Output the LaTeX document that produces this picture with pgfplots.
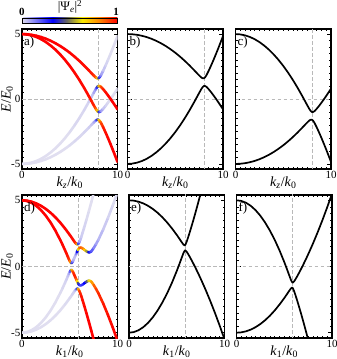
\documentclass[border=0pt]{standalone}
\usepackage{fontspec}
\setmainfont{Liberation Serif}
\usepackage{pgfplots}
\usepackage{pgfplotstable}
\pgfplotsset{compat=1.18}

% k, upper/lower bands of the two top-row pairs, weights
\pgfplotstableread{
k     U1      L1      U2      L2      wU    wL
0     5.009  -5.009   5.009  -5.009   1.00  0.00
0.5   4.995  -4.984   4.984  -4.995   1.00  0.00
1     4.951  -4.911   4.911  -4.951   1.00  0.00
1.5   4.879  -4.788   4.788  -4.879   1.00  0.00
2     4.779  -4.617   4.617  -4.779   1.00  0.00
2.5   4.649  -4.395   4.395  -4.649   1.00  0.00
3     4.490  -4.124   4.124  -4.490   1.00  0.00
3.5   4.303  -3.806   3.806  -4.303   1.00  0.00
4     4.087  -3.437   3.437  -4.087   1.00  0.00
4.5   3.843  -3.020   3.020  -3.843   1.00  0.00
5     3.571  -2.555   2.555  -3.571   1.00  0.00
5.5   3.269  -2.040   2.040  -3.269   0.99  0.01
6     2.940  -1.478   1.478  -2.940   0.99  0.01
6.5   2.584  -0.869   0.869  -2.584   0.99  0.01
7     2.206  -0.216   0.216  -2.206   0.98  0.02
7.25  2.011   0.123  -0.123  -2.011   0.97  0.03
7.5   1.819   0.465  -0.465  -1.819   0.95  0.05
7.7   1.680   0.728  -0.728  -1.680   0.89  0.11
7.8   1.624   0.846  -0.846  -1.624   0.82  0.18
7.9   1.592   0.942  -0.942  -1.592   0.69  0.31
8     1.599   0.999  -0.999  -1.599   0.50  0.50
8.1   1.656   1.008  -1.008  -1.656   0.31  0.69
8.2   1.756   0.974  -0.974  -1.756   0.18  0.82
8.3   1.882   0.914  -0.914  -1.882   0.11  0.89
8.5   2.177   0.757  -0.757  -2.177   0.05  0.95
8.75  2.579   0.531  -0.531  -2.579   0.02  0.98
9     3.004   0.284  -0.284  -3.004   0.01  0.99
9.25  3.445   0.029  -0.029  -3.445   0.00  1.00
9.5   3.903  -0.237   0.237  -3.903   0.00  1.00
9.75  4.373  -0.513   0.513  -4.373   0.00  1.00
10    4.856  -0.796   0.796  -4.856   0.00  1.00
}\topdata

% panel d, band 1 (top) and band 4 (bottom)
\pgfplotstableread{
k     B1     m1     B4      m4
0     5.000  1.00  -5.000   0.00
0.5   4.974  1.00  -4.974   0.00
1     4.895  1.00  -4.895   0.00
1.5   4.764  1.00  -4.764   0.00
2     4.580  1.00  -4.580   0.00
2.5   4.344  1.00  -4.344   0.00
3     4.055  1.00  -4.055   0.00
3.5   3.714  1.00  -3.714   0.00
4     3.320  1.00  -3.320   0.00
4.5   2.874  1.00  -2.874   0.00
5     2.390  0.99  -2.390   0.01
5.25  2.130  0.99  -2.130   0.01
5.5   1.860  0.97  -1.860   0.03
5.6   1.770  0.95  -1.770   0.05
5.7   1.700  0.89  -1.700   0.11
5.8   1.670  0.70  -1.670   0.30
5.85  1.680  0.51  -1.680   0.49
5.9   1.720  0.31  -1.720   0.69
6.0   1.840  0.11  -1.840   0.89
6.1   2.020  0.06  -2.020   0.94
6.2   2.220  0.03  -2.220   0.97
6.35  2.560  0.02  -2.560   0.98
6.5   2.920  0.02  -2.920   0.98
6.75  3.530  0.01  -3.530   0.99
7.0   4.170  0.00  -4.170   1.00
7.25  4.830  0.00  -4.830   1.00
7.5   5.520  0.00  -5.520   1.00
}\dout

% panel d, band 2 and band 3
\pgfplotstableread{
k     B2     m2     B3      m3
0     5.000  1.00  -5.000   0.00
0.5   4.953  1.00  -4.953   0.00
1     4.813  1.00  -4.813   0.00
1.5   4.579  1.00  -4.579   0.00
2     4.252  1.00  -4.252   0.00
2.5   3.831  1.00  -3.831   0.00
3     3.317  1.00  -3.317   0.00
3.5   2.709  1.00  -2.709   0.00
4     2.008  1.00  -2.008   0.00
4.25  1.640  0.99  -1.640   0.01
4.5   1.240  0.99  -1.240   0.01
4.65  0.990  0.98  -0.990   0.02
4.8   0.740  0.97  -0.740   0.03
4.9   0.570  0.95  -0.570   0.05
5.0   0.410  0.90  -0.410   0.10
5.1   0.290  0.74  -0.290   0.26
5.17  0.250  0.50  -0.250   0.50
5.25  0.300  0.25  -0.300   0.75
5.35  0.430  0.10  -0.430   0.90
5.45  0.590  0.05  -0.590   0.95
5.55  0.760  0.04  -0.760   0.96
5.65  0.920  0.06  -0.920   0.94
5.75  1.080  0.18  -1.080   0.82
5.85  1.250  0.49  -1.250   0.51
5.95  1.370  0.72  -1.370   0.32
6.05  1.420  0.85  -1.420   0.24
6.15  1.430  0.88  -1.430   0.22
6.3   1.390  0.86  -1.390   0.23
6.5   1.280  0.78  -1.280   0.27
6.7   1.170  0.62  -1.170   0.37
6.9   1.090  0.45  -1.090   0.50
7.0   1.070  0.35  -1.070   0.58
7.1   1.080  0.30  -1.080   0.64
7.25  1.130  0.22  -1.130   0.72
7.5   1.390  0.15  -1.390   0.83
7.75  1.690  0.10  -1.690   0.90
8.0   2.020  0.07  -2.020   0.93
8.5   2.790  0.04  -2.790   0.96
9.0   3.660  0.02  -3.660   0.98
9.5   4.600  0.01  -4.600   0.99
10    5.600  0.00  -5.600   1.00
}\din

% panels e and f
\pgfplotstableread{
k     eup     elo     fup     flo
0     5.000  -5.000   5.000  -5.000
0.5   4.974  -4.953   4.953  -4.974
1     4.895  -4.813   4.813  -4.895
1.5   4.764  -4.579   4.579  -4.764
2     4.580  -4.252   4.252  -4.580
2.5   4.344  -3.831   3.831  -4.344
3     4.055  -3.317   3.317  -4.055
3.5   3.714  -2.709   2.709  -3.714
4     3.320  -2.016   2.016  -3.320
4.5   2.874  -1.223   1.223  -2.874
5     2.390  -0.340   0.340  -2.390
5.25  2.126   0.134  -0.134  -2.126
5.5   1.858   0.624  -0.624  -1.858
5.6   1.753   0.818  -0.818  -1.753
5.7   1.658   1.008  -1.008  -1.658
5.8   1.599   1.161  -1.161  -1.599
5.85  1.604   1.204  -1.204  -1.604
5.9   1.643   1.211  -1.211  -1.643
6.0   1.801   1.151  -1.151  -1.801
6.1   2.002   1.049  -1.049  -2.002
6.2   2.220   0.932  -0.932  -2.220
6.35  2.563   0.744  -0.744  -2.563
6.5   2.919   0.547  -0.547  -2.919
6.75  3.532   0.204  -0.204  -3.532
7     4.172  -0.154   0.154  -4.172
7.25  4.836  -0.526   0.526  -4.836
7.5   5.518  -0.912   0.912  -5.518
8     6.970  -1.720   1.720  -6.970
8.5   8.510  -2.586   2.586  -8.510
9     10.15  -3.505   3.505  -10.15
9.5   11.88  -4.476   4.476  -11.88
10    13.70  -5.500   5.500  -13.70
}\efdata

\tikzset{
  lbl/.style={anchor=north west, inner sep=0pt, font=\fontsize{13}{13}\selectfont},
  dashln/.style={gray!55, line width=0.7pt, dash pattern=on 3.5pt off 2.5pt},
}
\pgfplotsset{
  colormap={psi}{rgb255(0pt)=(224,222,240); rgb255(32pt)=(0,0,255); rgb255(47pt)=(105,105,95); rgb255(63pt)=(250,235,0); rgb255(80pt)=(255,140,0); rgb255(100pt)=(255,0,0)},
  panel/.style={
    scale only axis, width=95.5pt,
    xmin=0, xmax=10, ymin=-5.4, ymax=5.4,
    xtick={0,10}, xticklabels={0,10},
    ytick={-5,0,5}, yticklabels={},
    minor xtick={0.5,1,...,9.5},
    minor ytick={-5,-4.5,...,5},
    tick align=inside,
    major tick length=4pt, minor tick length=2pt,
    every tick/.style={black, line width=0.5pt},
    axis line style={line width=1.1pt},
    tick label style={font=\fontsize{11}{11}\selectfont, inner sep=1.5pt},
    /pgf/number format/assume math mode=true,
    xlabel style={font=\fontsize{14}{14}\selectfont, at={(axis description cs:0.5,0)}, anchor=center, yshift=-14pt, inner sep=0pt},
    ylabel style={font=\fontsize{14}{14}\selectfont, at={(axis description cs:-0.155,0.5)}, anchor=center, inner sep=0pt},
  },
  toprow/.style={panel, height=140pt, xlabel={\textit{k}\textsubscript{\textit{z}}/\textit{k}\textsubscript{0}}},
  botrow/.style={panel, height=143pt, xlabel={\textit{k}\textsubscript{1}/\textit{k}\textsubscript{0}}},
  band/.style={mesh, point meta=explicit, line width=2.6pt, line cap=round},
  blk/.style={black, line width=1.7pt},
}

\begin{document}
\begin{tikzpicture}
\useasboundingbox (0pt,0pt) rectangle (337pt,359pt);

% a)
\begin{axis}[toprow, at={(22pt,190pt)}, anchor=south west,
  yticklabels={{-5},{0},{5}}, ylabel={\textit{E}/\textit{E}\textsubscript{0}},
  colormap name=psi, point meta min=0, point meta max=1,
  colorbar horizontal,
  colorbar style={at={(0,1.045)}, anchor=south west,
    height=5pt, xtick=\empty, ytick=\empty, axis line style={line width=0.4pt}}]
\addplot[dashln] coordinates {(8,-6) (8,6)};
\addplot[dashln] coordinates {(0,0) (10,0)};
\addplot[band, restrict x to domain=0:7.5] table[x=k, y=L1, meta=wL] {\topdata};
\addplot[band, restrict x to domain=7.5:10] table[x=k, y=U2, meta=wU] {\topdata};
\addplot[band] table[x=k, y=U1, meta=wU] {\topdata};
\addplot[band] table[x=k, y=L2, meta=wL] {\topdata};
\addplot[band, restrict x to domain=0:7.5] table[x=k, y=U2, meta=wU] {\topdata};
\addplot[band, restrict x to domain=7.5:10] table[x=k, y=L1, meta=wL] {\topdata};
\node[lbl] at (rel axis cs:0.02,0.95) {a)};
\end{axis}

% b)
\begin{axis}[toprow, at={(127.5pt,190pt)}, anchor=south west]
\addplot[dashln] coordinates {(8,-6) (8,6)};
\addplot[dashln] coordinates {(0,0) (10,0)};
\addplot[blk] table[x=k, y=U1] {\topdata};
\addplot[blk] table[x=k, y=L1] {\topdata};
\node[lbl] at (rel axis cs:0.02,0.95) {b)};
\end{axis}

% c)
\begin{axis}[toprow, at={(235.5pt,190pt)}, anchor=south west]
\addplot[dashln] coordinates {(8,-6) (8,6)};
\addplot[dashln] coordinates {(0,0) (10,0)};
\addplot[blk] table[x=k, y=U2] {\topdata};
\addplot[blk] table[x=k, y=L2] {\topdata};
\node[lbl] at (rel axis cs:0.02,0.95) {c)};
\end{axis}

% d)
\begin{axis}[botrow, at={(22pt,21pt)}, anchor=south west,
  yticklabels={{-5},{0},{5}}, ylabel={\textit{E}/\textit{E}\textsubscript{0}},
  colormap name=psi, point meta min=0, point meta max=1]
\addplot[dashln] coordinates {(5.85,-6) (5.85,6)};
\addplot[dashln] coordinates {(0,0) (10,0)};
\addplot[band] table[x=k, y=B3, meta=m3] {\din};
\addplot[band] table[x=k, y=B4, meta=m4] {\dout};
\addplot[band] table[x=k, y=B2, meta=m2] {\din};
\addplot[band] table[x=k, y=B1, meta=m1] {\dout};
\node[lbl] at (rel axis cs:0.02,0.95) {d)};
\end{axis}

% e)
\begin{axis}[botrow, at={(129pt,21pt)}, anchor=south west]
\addplot[dashln] coordinates {(5.85,-6) (5.85,6)};
\addplot[dashln] coordinates {(0,0) (10,0)};
\addplot[blk] table[x=k, y=eup] {\efdata};
\addplot[blk] table[x=k, y=elo] {\efdata};
\node[lbl] at (rel axis cs:0.02,0.95) {e)};
\end{axis}

% f)
\begin{axis}[botrow, at={(236.5pt,21pt)}, anchor=south west]
\addplot[dashln] coordinates {(5.85,-6) (5.85,6)};
\addplot[dashln] coordinates {(0,0) (10,0)};
\addplot[blk] table[x=k, y=fup] {\efdata};
\addplot[blk] table[x=k, y=flo] {\efdata};
\node[lbl] at (rel axis cs:0.02,0.95) {f)};
\end{axis}

% colorbar labels
\node[font=\bfseries\fontsize{11}{11}\selectfont] at (22pt,347.5pt) {0};
\node[font=\bfseries\fontsize{11}{11}\selectfont] at (116pt,347.5pt) {1};
\node[font=\fontsize{13}{13}\selectfont] at (70pt,352pt) {|Ψ\textsubscript{\textit{e}}|\textsuperscript{2}};
\end{tikzpicture}
\end{document}
